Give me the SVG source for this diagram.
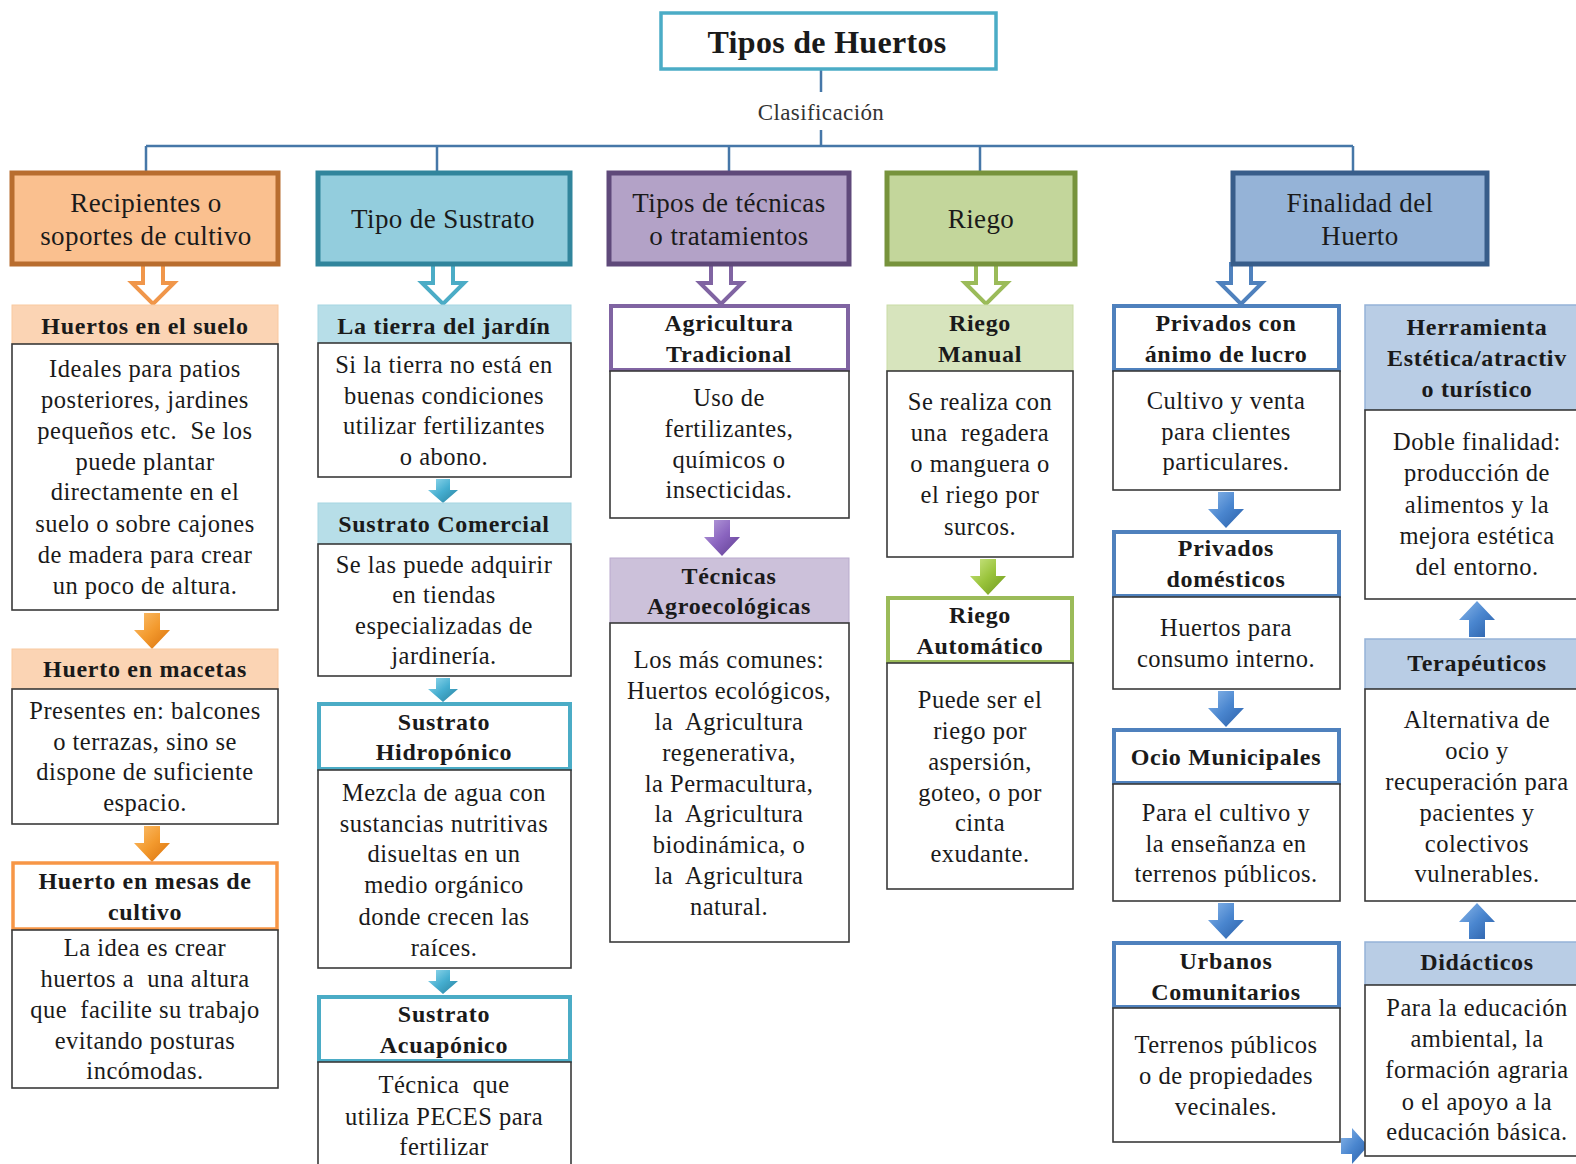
<svg xmlns="http://www.w3.org/2000/svg" width="1576" height="1164" viewBox="0 0 1576 1164">
<defs>
<style>
text{font-family:"Liberation Serif","Times New Roman",serif;fill:#1a1a1a;text-anchor:middle}
.ti{font-size:32px;font-weight:bold;letter-spacing:0.3px}
.cl{font-size:23px;fill:#333;letter-spacing:0.4px}
.h{font-size:27px;letter-spacing:0.4px}
.t{font-size:24px;font-weight:bold;letter-spacing:0.7px}
.b{font-size:24.5px;letter-spacing:0.5px}
.body{fill:#fff;stroke:#3a3a3a;stroke-width:1.6}
.conn{fill:none;stroke:#4677a8;stroke-width:2.5}
</style>
<linearGradient id="gO" x1="0" y1="0" x2="1" y2="1"><stop offset="0" stop-color="#fbc070"/><stop offset="0.5" stop-color="#f39a2e"/><stop offset="1" stop-color="#d8700c"/></linearGradient>
<linearGradient id="gT" x1="0" y1="0" x2="1" y2="1"><stop offset="0" stop-color="#9adcef"/><stop offset="0.5" stop-color="#45aed0"/><stop offset="1" stop-color="#2a7f9c"/></linearGradient>
<linearGradient id="gP" x1="0" y1="0" x2="1" y2="1"><stop offset="0" stop-color="#b9a2dc"/><stop offset="0.5" stop-color="#8a64bf"/><stop offset="1" stop-color="#5e3d8f"/></linearGradient>
<linearGradient id="gG" x1="0" y1="0" x2="1" y2="1"><stop offset="0" stop-color="#cfe88a"/><stop offset="0.5" stop-color="#9ac43c"/><stop offset="1" stop-color="#6b951c"/></linearGradient>
<linearGradient id="gB" x1="0" y1="0" x2="1" y2="1"><stop offset="0" stop-color="#8cb8ea"/><stop offset="0.5" stop-color="#4a86cf"/><stop offset="1" stop-color="#2a5ea6"/></linearGradient>
<path id="hollow" d="M-10,0 H10 V19 H21 L0,40 L-21,19 H-10 Z"/>
<path id="down" d="M-8,0 H8 V17 H18 L0,36 L-18,17 H-8 Z"/>
<path id="small" d="M-7,0 H7 V11 H15 L0,24 L-15,11 H-7 Z"/>
<path id="up" d="M-8,36 H8 V19 H18 L0,0 L-18,19 H-8 Z"/>
</defs>
<rect width="1576" height="1164" fill="#fff"/>

<g id="connectors">
<path class="conn" d="M821,70 V92 M821,130 V146 M146,146 H1353 M146,146 V171 M437,146 V171 M729,146 V171 M980,146 V171 M1353,146 V171"/>
<text class="cl" x="821" y="120">Clasificación</text>
<use href="#hollow" x="153" y="264" fill="#fff" stroke="#f0964a" stroke-width="4" stroke-linejoin="miter"/>
<use href="#hollow" x="443" y="264" fill="#fff" stroke="#4bacc6" stroke-width="4"/>
<use href="#hollow" x="721" y="264" fill="#fff" stroke="#8064a2" stroke-width="4"/>
<use href="#hollow" x="986" y="264" fill="#fff" stroke="#9bbb59" stroke-width="4"/>
<use href="#hollow" x="1241" y="264" fill="#fff" stroke="#4f81bd" stroke-width="4"/>
<use href="#down" x="152" y="613" fill="url(#gO)"/>
<use href="#down" x="152" y="826" fill="url(#gO)"/>
<use href="#small" x="443" y="479" fill="url(#gT)"/>
<use href="#small" x="443" y="678" fill="url(#gT)"/>
<use href="#small" x="443" y="970" fill="url(#gT)"/>
<use href="#down" x="722" y="520" fill="url(#gP)"/>
<use href="#down" x="988" y="559" fill="url(#gG)"/>
<use href="#down" x="1226" y="492" fill="url(#gB)"/>
<use href="#down" x="1226" y="691" fill="url(#gB)"/>
<use href="#down" x="1226" y="903" fill="url(#gB)"/>
<use href="#up" x="1477" y="601" fill="url(#gB)"/>
<use href="#up" x="1477" y="903" fill="url(#gB)"/>
<path d="M1341,1138 H1352 V1128 L1368,1146 L1352,1164 V1154 H1341 Z" fill="url(#gB)"/>
</g>

<g id="title">
<rect x="661" y="13" width="335" height="56" fill="#fff" stroke="#4bacc6" stroke-width="3.5"/>
<text class="ti" x="827" y="53">Tipos de Huertos</text>
</g>

<g id="h-recipientes">
<rect x="12" y="173" width="266" height="91" fill="#fac08f" stroke="#b86d2f" stroke-width="5"/>
<text class="h" x="146" y="212">Recipientes o</text>
<text class="h" x="146" y="245">soportes de cultivo</text>
</g>
<g id="h-sustrato">
<rect x="318" y="173" width="252" height="91" fill="#93cddd" stroke="#31859c" stroke-width="5"/>
<text class="h" x="443" y="228">Tipo de Sustrato</text>
</g>
<g id="h-tecnicas">
<rect x="609" y="173" width="240" height="91" fill="#b3a2c7" stroke="#5f497a" stroke-width="5"/>
<text class="h" x="729" y="212">Tipos de técnicas</text>
<text class="h" x="729" y="245">o tratamientos</text>
</g>
<g id="h-riego">
<rect x="887" y="173" width="188" height="91" fill="#c3d69b" stroke="#77933c" stroke-width="5"/>
<text class="h" x="981" y="228">Riego</text>
</g>
<g id="h-finalidad">
<rect x="1233" y="173" width="254" height="91" fill="#95b3d7" stroke="#385d8a" stroke-width="5"/>
<text class="h" x="1360" y="212">Finalidad del</text>
<text class="h" x="1360" y="245">Huerto</text>
</g>

<!-- Column 1 -->
<g id="n-suelo">
<rect x="12" y="305" width="266" height="39" fill="#fbd4b4" stroke="#f9c9a0" stroke-width="1"/>
<rect class="body" x="12" y="344" width="266" height="266"/>
<text class="t" x="145" y="334">Huertos en el suelo</text>
<text class="b" x="145" y="377">Ideales para patios</text>
<text class="b" x="145" y="408">posteriores, jardines</text>
<text class="b" x="145" y="439" xml:space="preserve">pequeños etc.  Se los</text>
<text class="b" x="145" y="470">puede plantar</text>
<text class="b" x="145" y="500">directamente en el</text>
<text class="b" x="145" y="532">suelo o sobre cajones</text>
<text class="b" x="145" y="563">de madera para crear</text>
<text class="b" x="145" y="594">un poco de altura.</text>
</g>
<g id="n-macetas">
<rect x="12" y="649" width="266" height="40" fill="#fbd4b4" stroke="#f9c9a0" stroke-width="1"/>
<rect class="body" x="12" y="689" width="266" height="135"/>
<text class="t" x="145" y="677">Huerto en macetas</text>
<text class="b" x="145" y="719">Presentes en: balcones</text>
<text class="b" x="145" y="750">o terrazas, sino se</text>
<text class="b" x="145" y="780">dispone de suficiente</text>
<text class="b" x="145" y="811">espacio.</text>
</g>
<g id="n-mesas">
<rect x="13" y="863" width="264" height="66" fill="#fff" stroke="#f79646" stroke-width="3.5"/>
<rect class="body" x="12" y="930" width="266" height="158"/>
<text class="t" x="145" y="889">Huerto en mesas de</text>
<text class="t" x="145" y="920">cultivo</text>
<text class="b" x="145" y="956">La idea es crear</text>
<text class="b" x="145" y="987" xml:space="preserve">huertos a  una altura</text>
<text class="b" x="145" y="1018" xml:space="preserve">que  facilite su trabajo</text>
<text class="b" x="145" y="1049">evitando posturas</text>
<text class="b" x="145" y="1079">incómodas.</text>
</g>

<!-- Column 2 -->
<g id="n-tierra">
<rect x="318" y="305" width="253" height="38" fill="#b7dee8" stroke="#a5d5e2" stroke-width="1"/>
<rect class="body" x="318" y="343" width="253" height="134"/>
<text class="t" x="444" y="334">La tierra del jardín</text>
<text class="b" x="444" y="373">Si la tierra no está en</text>
<text class="b" x="444" y="404">buenas condiciones</text>
<text class="b" x="444" y="434">utilizar fertilizantes</text>
<text class="b" x="444" y="465">o abono.</text>
</g>
<g id="n-comercial">
<rect x="318" y="503" width="253" height="41" fill="#b7dee8" stroke="#a5d5e2" stroke-width="1"/>
<rect class="body" x="318" y="544" width="253" height="132"/>
<text class="t" x="444" y="532">Sustrato Comercial</text>
<text class="b" x="444" y="573">Se las puede adquirir</text>
<text class="b" x="444" y="603">en tiendas</text>
<text class="b" x="444" y="634">especializadas de</text>
<text class="b" x="444" y="664">jardinería.</text>
</g>
<g id="n-hidroponico">
<rect x="319" y="704" width="251" height="65" fill="#fff" stroke="#4bacc6" stroke-width="4"/>
<rect class="body" x="318" y="770" width="253" height="198"/>
<text class="t" x="444" y="730">Sustrato</text>
<text class="t" x="444" y="760">Hidropónico</text>
<text class="b" x="444" y="801">Mezcla de agua con</text>
<text class="b" x="444" y="832">sustancias nutritivas</text>
<text class="b" x="444" y="862">disueltas en un</text>
<text class="b" x="444" y="893">medio orgánico</text>
<text class="b" x="444" y="925">donde crecen las</text>
<text class="b" x="444" y="956">raíces.</text>
</g>
<g id="n-acuaponico">
<rect x="319" y="997" width="251" height="64" fill="#fff" stroke="#4bacc6" stroke-width="4"/>
<rect class="body" x="318" y="1062" width="253" height="110"/>
<text class="t" x="444" y="1022">Sustrato</text>
<text class="t" x="444" y="1053">Acuapónico</text>
<text class="b" x="444" y="1093" xml:space="preserve">Técnica  que</text>
<text class="b" x="444" y="1125">utiliza PECES para</text>
<text class="b" x="444" y="1155">fertilizar</text>
</g>

<!-- Column 3 -->
<g id="n-tradicional">
<rect x="611" y="306" width="237" height="64" fill="#fff" stroke="#8064a2" stroke-width="4"/>
<rect class="body" x="610" y="371" width="239" height="147"/>
<text class="t" x="729" y="331">Agricultura</text>
<text class="t" x="729" y="362">Tradicional</text>
<text class="b" x="729" y="406">Uso de</text>
<text class="b" x="729" y="437">fertilizantes,</text>
<text class="b" x="729" y="468">químicos o</text>
<text class="b" x="729" y="498">insecticidas.</text>
</g>
<g id="n-agroecologicas">
<rect x="610" y="558" width="239" height="65" fill="#ccc1da" stroke="#b9aacd" stroke-width="1"/>
<rect class="body" x="610" y="623" width="239" height="319"/>
<text class="t" x="729" y="584">Técnicas</text>
<text class="t" x="729" y="614">Agroecológicas</text>
<text class="b" x="729" y="668">Los más comunes:</text>
<text class="b" x="729" y="699">Huertos ecológicos,</text>
<text class="b" x="729" y="730" xml:space="preserve">la  Agricultura</text>
<text class="b" x="729" y="761">regenerativa,</text>
<text class="b" x="729" y="792">la Permacultura,</text>
<text class="b" x="729" y="822" xml:space="preserve">la  Agricultura</text>
<text class="b" x="729" y="853">biodinámica, o</text>
<text class="b" x="729" y="884" xml:space="preserve">la  Agricultura</text>
<text class="b" x="729" y="915">natural.</text>
</g>

<!-- Column 4 -->
<g id="n-manual">
<rect x="887" y="305" width="186" height="66" fill="#d7e4bd" stroke="#c9dba6" stroke-width="1"/>
<rect class="body" x="887" y="371" width="186" height="186"/>
<text class="t" x="980" y="331">Riego</text>
<text class="t" x="980" y="362">Manual</text>
<text class="b" x="980" y="410">Se realiza con</text>
<text class="b" x="980" y="441" xml:space="preserve">una  regadera</text>
<text class="b" x="980" y="472">o manguera o</text>
<text class="b" x="980" y="503">el riego por</text>
<text class="b" x="980" y="535">surcos.</text>
</g>
<g id="n-automatico">
<rect x="888" y="598" width="184" height="64" fill="#fff" stroke="#9bbb59" stroke-width="4"/>
<rect class="body" x="887" y="663" width="186" height="226"/>
<text class="t" x="980" y="623">Riego</text>
<text class="t" x="980" y="654">Automático</text>
<text class="b" x="980" y="708">Puede ser el</text>
<text class="b" x="980" y="739">riego por</text>
<text class="b" x="980" y="770">aspersión,</text>
<text class="b" x="980" y="801">goteo, o por</text>
<text class="b" x="980" y="831">cinta</text>
<text class="b" x="980" y="862">exudante.</text>
</g>

<!-- Column 5 -->
<g id="n-lucro">
<rect x="1114" y="306" width="225" height="64" fill="#fff" stroke="#4f81bd" stroke-width="4"/>
<rect class="body" x="1113" y="371" width="227" height="119"/>
<text class="t" x="1226" y="331">Privados con</text>
<text class="t" x="1226" y="362">ánimo de lucro</text>
<text class="b" x="1226" y="409">Cultivo y venta</text>
<text class="b" x="1226" y="440">para clientes</text>
<text class="b" x="1226" y="470">particulares.</text>
</g>
<g id="n-domesticos">
<rect x="1114" y="532" width="225" height="64" fill="#fff" stroke="#4f81bd" stroke-width="4"/>
<rect class="body" x="1113" y="597" width="227" height="92"/>
<text class="t" x="1226" y="556">Privados</text>
<text class="t" x="1226" y="587">domésticos</text>
<text class="b" x="1226" y="636">Huertos para</text>
<text class="b" x="1226" y="667">consumo interno.</text>
</g>
<g id="n-ocio">
<rect x="1114" y="730" width="225" height="53" fill="#fff" stroke="#4f81bd" stroke-width="4"/>
<rect class="body" x="1113" y="784" width="227" height="117"/>
<text class="t" x="1226" y="765">Ocio Municipales</text>
<text class="b" x="1226" y="821">Para el cultivo y</text>
<text class="b" x="1226" y="852">la enseñanza en</text>
<text class="b" x="1226" y="882">terrenos públicos.</text>
</g>
<g id="n-urbanos">
<rect x="1114" y="943" width="225" height="64" fill="#fff" stroke="#4f81bd" stroke-width="4"/>
<rect class="body" x="1113" y="1008" width="227" height="134"/>
<text class="t" x="1226" y="969">Urbanos</text>
<text class="t" x="1226" y="1000">Comunitarios</text>
<text class="b" x="1226" y="1053">Terrenos públicos</text>
<text class="b" x="1226" y="1084">o de propiedades</text>
<text class="b" x="1226" y="1115">vecinales.</text>
</g>

<!-- Column 6 -->
<g id="n-herramienta">
<rect x="1365" y="305" width="230" height="105" fill="#b9cde5" stroke="#95b3d7" stroke-width="1.5"/>
<rect class="body" x="1365" y="410" width="230" height="189"/>
<text class="t" x="1477" y="335">Herramienta</text>
<text class="t" x="1477" y="366">Estética/atractiv</text>
<text class="t" x="1477" y="397">o turístico</text>
<text class="b" x="1477" y="450">Doble finalidad:</text>
<text class="b" x="1477" y="481">producción de</text>
<text class="b" x="1477" y="513">alimentos y la</text>
<text class="b" x="1477" y="544">mejora estética</text>
<text class="b" x="1477" y="575">del entorno.</text>
</g>
<g id="n-terapeuticos">
<rect x="1365" y="639" width="230" height="50" fill="#b9cde5" stroke="#95b3d7" stroke-width="1.5"/>
<rect class="body" x="1365" y="689" width="230" height="212"/>
<text class="t" x="1477" y="671">Terapéuticos</text>
<text class="b" x="1477" y="728">Alternativa de</text>
<text class="b" x="1477" y="759">ocio y</text>
<text class="b" x="1477" y="790">recuperación para</text>
<text class="b" x="1477" y="821">pacientes y</text>
<text class="b" x="1477" y="852">colectivos</text>
<text class="b" x="1477" y="882">vulnerables.</text>
</g>
<g id="n-didacticos">
<rect x="1365" y="942" width="230" height="43" fill="#b9cde5" stroke="#95b3d7" stroke-width="1.5"/>
<rect class="body" x="1365" y="985" width="230" height="171"/>
<text class="t" x="1477" y="970">Didácticos</text>
<text class="b" x="1477" y="1016">Para la educación</text>
<text class="b" x="1477" y="1047">ambiental, la</text>
<text class="b" x="1477" y="1078">formación agraria</text>
<text class="b" x="1477" y="1110">o el apoyo a la</text>
<text class="b" x="1477" y="1140">educación básica.</text>
</g>
</svg>
